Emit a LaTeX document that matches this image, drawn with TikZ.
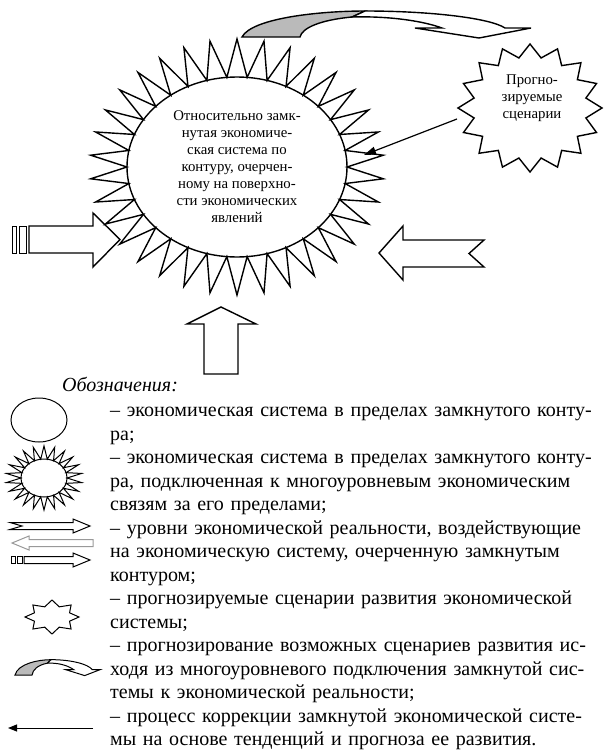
\documentclass[tikz,border=0pt]{standalone}
\usepackage{fontspec}
\setmainfont{Liberation Serif}
\usetikzlibrary{shapes.geometric,arrows.meta}
\tolerance=9999
\hyphenpenalty=10000

\begin{document}
\begin{tikzpicture}[x=1pt,y=-1pt,
    outline/.style={draw=black,line width=1.4pt},
    thin outline/.style={draw=black,line width=1pt},
    inner text/.style={align=center,font=\fontsize{14.8}{17}\selectfont},
    legend text/.style={anchor=base west,inner sep=0pt,text width=490pt,font=\fontsize{20}{23.5}\selectfont},
    turnarrow/.pic={
      \filldraw[fill=black!27] (0,0) .. controls (10,-19) and (78,-26) .. (123,-26) -- (110,-20)
        .. controls (78,-17) and (60,-9) .. (58,0) -- cycle;
      \filldraw[fill=white] (123,-26) .. controls (188,-26) and (248,-19) .. (263,-9) -- (289,-9)
        -- (237,1) -- (173,-9) -- (200,-9) .. controls (178,-17) and (143,-21) .. (110,-20) -- cycle;
    }]
  \useasboundingbox (0,0) rectangle (607,750);

  \draw[outline,fill=white] plot[samples at={0,...,67},variable=\k]
    ({237+(110+37*mod(\k,2))*cos(\k*180/34)},{167+(90+38*mod(\k,2))*sin(\k*180/34)}) -- cycle;
  \node[ellipse,outline,minimum width=220pt,minimum height=180pt,inner text] (sys) at (237,167)
    {Относительно замк-\\нутая экономиче-\\ская система по\\контуру, очерчен-\\ному на поверхно-\\сти экономических\\явлений};

  \draw[outline,fill=white] plot[samples at={0,...,31},variable=\k]
    ({530+(72-15*mod(\k,2))*cos(90+\k*11.25)},{108-(64-13*mod(\k,2))*sin(90+\k*11.25)}) -- cycle;
  \node[inner text] (scen) at (532,98) {Прогно-\\зируемые\\сценарии};

  \coordinate (scenL) at (457,119);
  \coordinate (sysR) at (364,155);
  \draw[line width=1.2pt,-{Triangle[length=12pt,width=8pt]}] (scenL) -- (sysR);

  \pic[outline] at (242,37) {turnarrow};

  \draw[outline] (29,226) -- (93,226) -- (93,213) -- (120,239.5) -- (93,267) -- (93,253) -- (29,253) -- cycle;
  \draw[thin outline] (12,226) rectangle (16.5,253);
  \draw[thin outline] (19,226) rectangle (26.5,253);
  \draw[outline] (484,240) -- (403,240) -- (403,226) -- (379,253) -- (403,280) -- (403,267) -- (484,267) -- (469,253.5) -- cycle;
  \draw[outline] (204,374) -- (204,324) -- (187,324) -- (221,307) -- (256,324) -- (238,324) -- (238,374) -- cycle;

  \node[anchor=base west,inner sep=0pt,font=\fontsize{20}{23.5}\selectfont\itshape] (legend) at (62,391.5) {Обозначения:};

  \draw[thin outline] (39,420) ellipse [x radius=28pt,y radius=22pt];
  \draw[thin outline] plot[samples at={0,...,43},variable=\k]
    ({44+(23+15*mod(\k,2))*cos(\k*180/22)},{478+(19+13*mod(\k,2))*sin(\k*180/22)}) -- cycle;
  \draw[thin outline] (44,478) ellipse [x radius=23pt,y radius=19pt];

  \draw[thin outline] (10,522.5) -- (73,522.5) -- (73,519) -- (90,526) -- (73,533) -- (73,529.5) -- (10,529.5) -- (22,526) -- cycle;
  \draw[thin outline,draw=black!40] (93,539.5) -- (29,539.5) -- (29,536) -- (12,543) -- (29,550) -- (29,546.5) -- (93,546.5) -- cycle;
  \draw[thin outline] (24,556.5) -- (73,556.5) -- (73,553) -- (90,560) -- (73,567) -- (73,563.5) -- (24,563.5) -- cycle;
  \draw[thin outline] (11,556.5) rectangle (15,563.5);
  \draw[thin outline] (17,556.5) rectangle (22,563.5);

  \draw[thin outline] plot[samples at={0,...,15},variable=\k]
    ({52+(27-8*mod(\k,2))*cos(90+\k*22.5)},{617-(17-6*mod(\k,2))*sin(90+\k*22.5)}) -- cycle;

  \pic[thin outline,xscale=0.294,yscale=0.59] at (15,675) {turnarrow};

  \coordinate (corrA) at (93,728);
  \coordinate (corrB) at (8,728);
  \draw[line width=1pt,-{Triangle[length=9pt,width=7pt]}] (corrA) -- (corrB);

  \node[legend text] (i1) at (110,416.5) {– экономическая система в пределах замкнутого конту-\linebreak ра;};
  \node[legend text] (i2) at (110,463.5) {– экономическая система в пределах замкнутого конту-\linebreak ра, подключенная к многоуровневым экономическим\linebreak связям за его пределами;};
  \node[legend text] (i3) at (110,534) {– уровни экономической реальности, воздействующие\linebreak на экономическую систему, очерченную замкнутым\linebreak контуром;};
  \node[legend text] (i4) at (110,604.5) {– прогнозируемые сценарии развития экономической\linebreak системы;};
  \node[legend text] (i5) at (110,651.5) {– прогнозирование возможных сценариев развития ис-\linebreak ходя из многоуровневого подключения замкнутой сис-\linebreak темы к экономической реальности;};
  \node[legend text] (i6) at (110,722) {– процесс коррекции замкнутой экономической систе-\linebreak мы на основе тенденций и прогноза ее развития.};
\end{tikzpicture}
\end{document}
